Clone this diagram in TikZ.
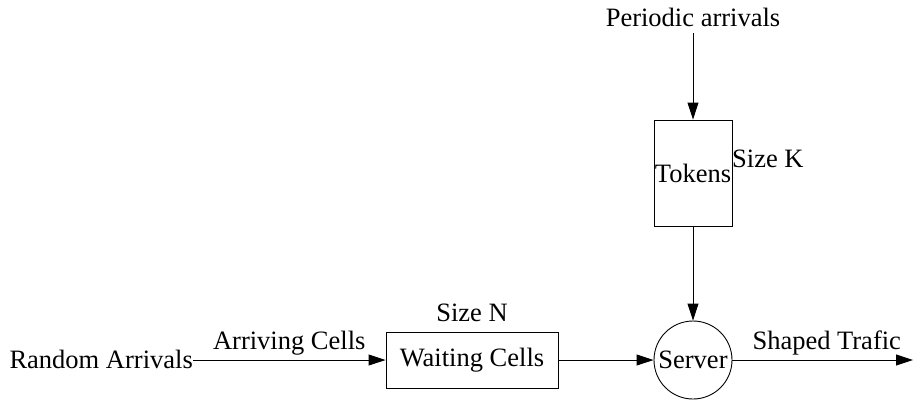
\documentclass[tikz,border=0pt]{standalone}
\usepackage{fontspec}
\setmainfont{Liberation Serif}
\usetikzlibrary{arrows.meta}
\begin{document}
\begin{tikzpicture}[x=1pt,y=-1pt,
  every node/.style={font=\fontsize{26.5}{29}\selectfont, inner sep=0pt},
  line/.style={draw=black, line width=0.9pt},
  flow/.style={line, -{Triangle[length=17pt,width=11pt]}},
  box/.style={draw=black, line width=0.9pt, rectangle},
  lbl/.style={}]
\useasboundingbox (0,0) rectangle (914,400);

% queue of waiting cells
\node[box, minimum width=172pt, minimum height=56pt] (wait) at (472,360) {Waiting Cells};
\node[lbl] (sizen) at (472,313) {Size N};

% token bucket
\node[box, minimum width=78pt, minimum height=106pt] (tok) at (693,173) {Tokens};
\node[lbl, anchor=west] (sizek) at (732,159) {Size K};

% server
\node[draw=black, line width=0.9pt, circle, minimum size=78pt] (srv) at (693,360) {Server};

% sources and sink
\node[lbl, anchor=east] (rand) at (193,359) {Random Arrivals};
\node[lbl] (per) at (693,17) {Periodic arrivals};
\coordinate (perend) at (693,33);
\coordinate (out) at (913,360);

% connectors
\draw[flow] (rand.east |- wait.west) -- node[above=4pt] (arr) {Arriving Cells} (wait.west);
\draw[flow] (wait.east) -- (srv.west);
\draw[flow] (perend) -- (tok.north);
\draw[flow] (tok.south) -- (srv.north);
\draw[flow] (srv.east) -- node[above=4pt, xshift=4pt] (shp) {Shaped Trafic} (out);
\end{tikzpicture}
\end{document}
